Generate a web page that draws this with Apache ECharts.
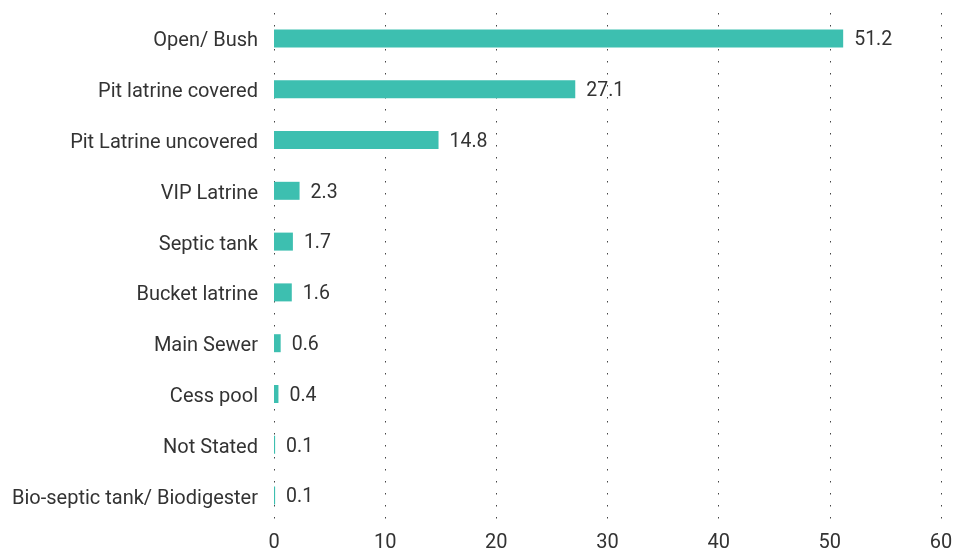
<!DOCTYPE html>
<html>
<head>
<meta charset="utf-8">
<script src="https://cdn.jsdelivr.net/npm/echarts@6/dist/echarts.min.js"></script>
<style>
  html, body { margin: 0; padding: 0; background: #fff; }
  #chart { width: 961px; height: 553px; }
</style>
</head>
<body>
<div id="chart"></div>
<script>
// 类别与数值（由上到下）
const categories = [
  'Open/ Bush', 'Pit latrine covered', 'Pit Latrine uncovered', 'VIP Latrine',
  'Septic tank', 'Bucket latrine', 'Main Sewer', 'Cess pool', 'Not Stated',
  'Bio-septic tank/ Biodigester'
];
const values = [51.2, 27.1, 14.8, 2.3, 1.7, 1.6, 0.6, 0.4, 0.1, 0.1];
const xTicks = [0, 10, 20, 30, 40, 50, 60];

const chart = echarts.init(document.getElementById('chart'));
const font = 'Roboto, "Noto Sans", sans-serif';

chart.setOption({
  backgroundColor: '#fff',
  animation: false,
  grid: { left: 274, right: 20, top: 13, bottom: 28, containLabel: false },
  xAxis: {
    type: 'value',
    min: xTicks[0], max: xTicks[xTicks.length - 1], interval: 10,
    axisLine: { show: false },
    axisTick: { show: false },
    axisLabel: { color: '#333', fontSize: 20, fontFamily: font, margin: 12 },
    splitLine: { show: true, lineStyle: { color: '#444', type: [1.5, 10.5], width: 1 } }
  },
  yAxis: {
    type: 'category',
    data: categories,
    inverse: true,
    axisLine: { show: false },
    axisTick: { show: false },
    // 稍微下移标签，贴近原图
    axisLabel: { color: '#333', fontSize: 20, fontFamily: font, margin: 16, verticalAlign: 'top', lineHeight: 6 }
  },
  series: [{
    type: 'bar',
    data: values,
    barWidth: 18,
    itemStyle: { color: '#3dbfb0' },
    label: {
      show: true, position: 'right', distance: 11, offset: [0, 2],
      color: '#333', fontSize: 19.5, fontFamily: font,
      formatter: p => p.value.toFixed(1)
    }
  }]
});
</script>
</body>
</html>
